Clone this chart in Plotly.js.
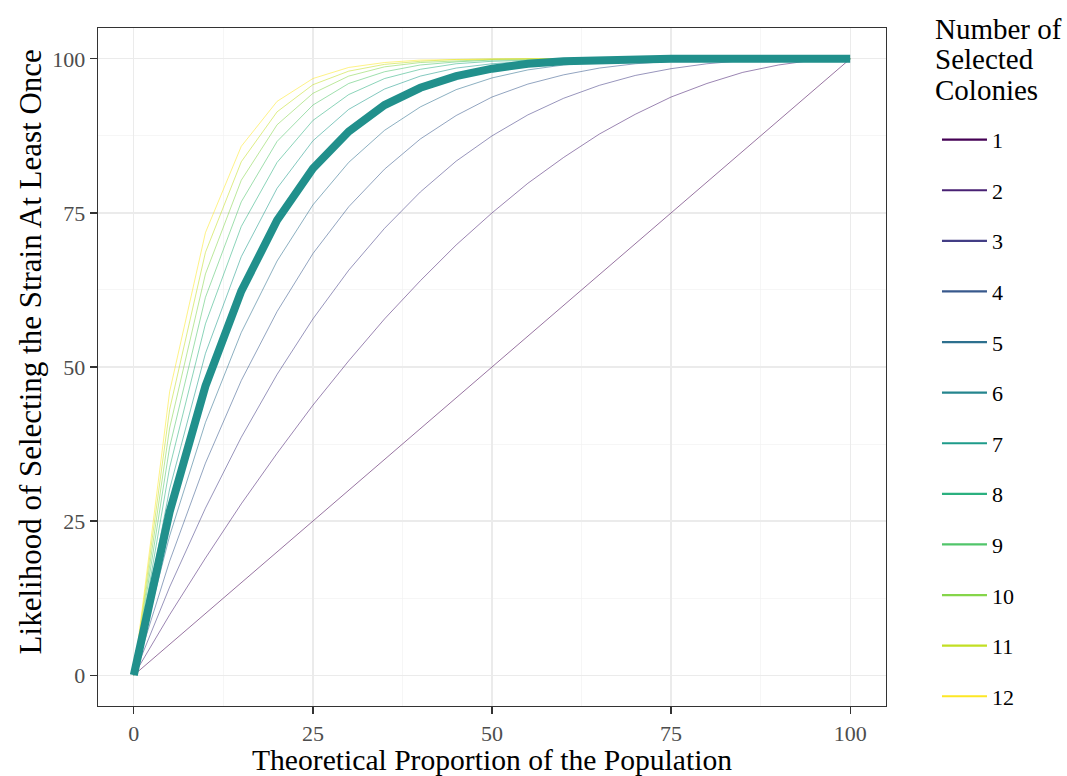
<!DOCTYPE html>
<html>
<head>
<meta charset="utf-8">
<script src="https://cdn.plot.ly/plotly-3.0.1.min.js"></script>
<style>html,body{margin:0;padding:0;background:#fff;}#chart{width:1067px;height:776px;}</style>
</head>
<body>
<div id="chart"></div>
<script>
// Theoretical proportion of the population (%)
const proportion = [0,5,10,15,20,25,30,35,40,45,50,55,60,65,70,75,80,85,90,95,100];
// Number of selected colonies
const colonies = ["1","2","3","4","5","6","7","8","9","10","11","12"];
// Likelihood of selecting the strain at least once (%), one array per number of colonies
const n1  = [0,5.0,10.0,15.0,20.0,25.0,30.0,35.0,40.0,45.0,50.0,55.0,60.0,65.0,70.0,75.0,80.0,85.0,90.0,95.0,100];
const n2  = [0,9.8,19.0,27.8,36.0,43.8,51.0,57.8,64.0,69.8,75.0,79.8,84.0,87.8,91.0,93.8,96.0,97.8,99.0,99.8,100];
const n3  = [0,14.3,27.1,38.6,48.8,57.8,65.7,72.5,78.4,83.4,87.5,90.9,93.6,95.7,97.3,98.4,99.2,99.7,99.9,100,100];
const n4  = [0,18.5,34.4,47.8,59.0,68.4,76.0,82.1,87.0,90.8,93.8,95.9,97.4,98.5,99.2,99.6,99.8,99.9,100,100,100];
const n5  = [0,22.6,41.0,55.6,67.2,76.3,83.2,88.4,92.2,95.0,96.9,98.2,99.0,99.5,99.8,99.9,100,100,100,100,100];
const n6  = [0,26.5,46.9,62.3,73.8,82.2,88.2,92.5,95.3,97.2,98.4,99.2,99.6,99.8,99.9,100,100,100,100,100,100];
const n7  = [0,30.2,52.2,67.9,79.0,86.7,91.8,95.1,97.2,98.5,99.2,99.6,99.8,99.9,100,100,100,100,100,100,100];
const n8  = [0,33.7,57.0,72.8,83.2,90.0,94.2,96.8,98.3,99.2,99.6,99.8,99.9,100,100,100,100,100,100,100,100];
const n9  = [0,37.0,61.3,76.8,86.6,92.5,96.0,97.9,99.0,99.5,99.8,99.9,100,100,100,100,100,100,100,100,100];
const n10 = [0,40.1,65.1,80.3,89.3,94.4,97.2,98.7,99.4,99.7,99.9,100,100,100,100,100,100,100,100,100,100];
const n11 = [0,43.1,68.6,83.3,91.4,95.8,98.0,99.1,99.6,99.9,100,100,100,100,100,100,100,100,100,100,100];
const n12 = [0,46.0,71.8,85.8,93.1,96.8,98.6,99.4,99.8,99.9,100,100,100,100,100,100,100,100,100,100,100];
const series = [n1,n2,n3,n4,n5,n6,n7,n8,n9,n10,n11,n12];
const highlighted = "6";
const tickVals = [0,25,50,75,100];
const tickText = ["0","25","50","75","100"];
const legendTitle = ["Number of","Selected","Colonies"];
const xTitle = "Theoretical Proportion of the Population";
const yTitle = "Likelihood of Selecting the Strain At Least Once";

const colors = ["#440154","#482173","#433E85","#38598C","#2D708E","#25858E",
                "#1E9B8A","#2BB07F","#51C56A","#85D54A","#C2DF23","#FDE725"];
const font = "Liberation Serif, Times New Roman, serif";

const traces = [];
series.forEach((ys, i) => {
  traces.push({
    x: proportion, y: ys, type: "scatter", mode: "lines",
    line: {color: colors[i], width: 1}, opacity: 0.55,
    showlegend: false, hoverinfo: "skip"
  });
});
const hi = colonies.indexOf(highlighted);
traces.push({
  x: proportion, y: series[hi], type: "scatter", mode: "lines",
  line: {color: "#21908C", width: 8}, showlegend: false
});
colonies.forEach((c, i) => {
  traces.push({
    x: [null], y: [null], type: "scatter", mode: "lines", name: c,
    legendgroup: "g" + c, line: {color: colors[i], width: 2.2}
  });
});

const axisCommon = {
  showline: true, mirror: true, linecolor: "#333333", linewidth: 1.3,
  ticks: "outside", tickcolor: "#333333", ticklen: 7, tickwidth: 1.3,
  showgrid: true, gridcolor: "#EBEBEB", gridwidth: 1.3,
  zeroline: false, range: [-5, 105],
  tickvals: tickVals, ticktext: tickText,
  tickfont: {family: font, size: 22, color: "#4D4D4D"},
  minor: {tickvals: [12.5,37.5,62.5,87.5], showgrid: true, gridcolor: "#F2F2F2", gridwidth: 0.7, ticks: ""}
};

const annotations = legendTitle.map((t, i) => ({
  xref: "paper", yref: "paper", x: 1.0600, y: [0.9985, 0.9545, 0.909][i],
  xanchor: "left", yanchor: "middle", text: t, showarrow: false, align: "left",
  font: {family: font, size: 29, color: "#000"}
}));
annotations.push({
  xref: "paper", yref: "paper", x: -0.0863, y: 0.523, xanchor: "center", yanchor: "middle",
  text: yTitle, textangle: -90, showarrow: false,
  font: {family: font, size: 31, color: "#000"}
});

const layout = {
  width: 1067, height: 776,
  margin: {l: 98, r: 181, t: 28, b: 70},
  paper_bgcolor: "#ffffff", plot_bgcolor: "#ffffff",
  font: {family: font, color: "#000000"},
  xaxis: Object.assign({}, axisCommon, {
    title: {text: xTitle, font: {family: font, size: 29.6}, standoff: 6}
  }),
  yaxis: Object.assign({}, axisCommon, {}),
  showlegend: true,
  legend: {
    x: 1.0647, xanchor: "left", y: 0.866, yanchor: "top",
    traceorder: "grouped", tracegroupgap: 19, itemwidth: 45,
    font: {family: font, size: 22, color: "#000"},
    bgcolor: "rgba(0,0,0,0)"
  },
  annotations: annotations
};

Plotly.newPlot("chart", traces, layout, {displayModeBar: false, staticPlot: true});
</script>
</body>
</html>
